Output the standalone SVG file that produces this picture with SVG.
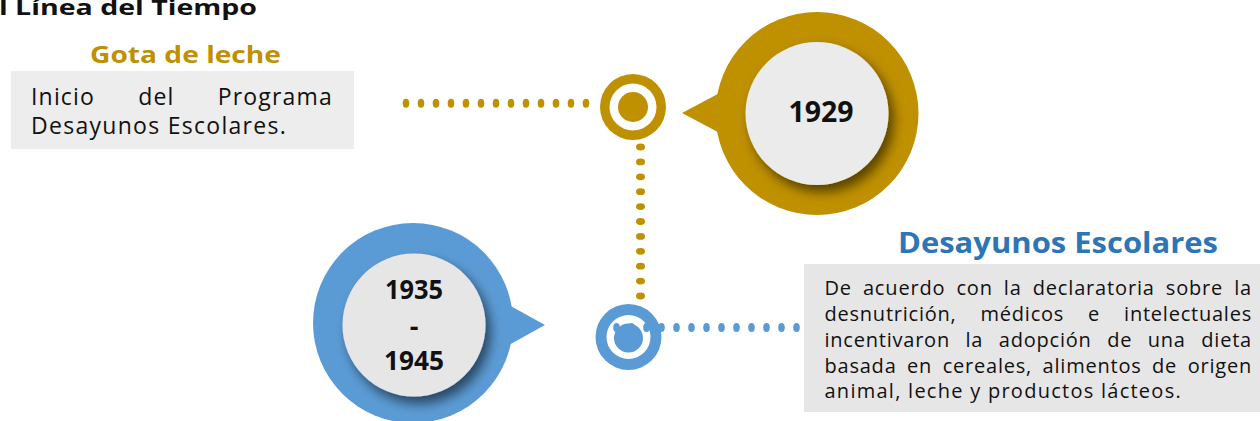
<svg xmlns="http://www.w3.org/2000/svg" width="1260" height="421" viewBox="0 0 1260 421">
<defs>
<style>
.t{font-family:"Open Sans","Liberation Sans",sans-serif;fill:#111111}
.b{font-weight:bold}
.gold{fill:#BF9000}
.blue{fill:#5B9BD5}
.inner{fill:#EBEBEB}
.gd{fill:#BF9000}
.bd{fill:#5B9BD5}
.p1{font-size:23px;letter-spacing:1.2px}
.p2{font-size:20px;letter-spacing:0.8px}
</style>
<filter id="sh" x="-30%" y="-30%" width="170%" height="170%">
<feDropShadow dx="5" dy="7" stdDeviation="6" flood-color="#000" flood-opacity="0.55"/>
</filter>
</defs>
<rect width="1260" height="421" fill="#FFFFFF"/>
<text class="t b" x="-1" y="15" font-size="22" textLength="258" lengthAdjust="spacingAndGlyphs">l Línea del Tiempo</text>

<g id="node-gota">
<text class="t b" x="90" y="63" font-size="23" style="fill:#BF9000" textLength="191" lengthAdjust="spacingAndGlyphs">Gota de leche</text>
<rect x="11" y="71" width="343" height="78" fill="#EDEDED"/>
<text class="t p1" x="31" y="105" word-spacing="36" textLength="302" lengthAdjust="spacing">Inicio del Programa</text>
<text class="t p1" x="31" y="134" textLength="256" lengthAdjust="spacing">Desayunos Escolares.</text>
</g>

<g id="node-1929">
<polygon class="gold" points="682,113 730,87.5 730,138.5"/>
<circle class="gold" cx="817" cy="113.5" r="101.5"/>
<circle class="inner" cx="817" cy="113.5" r="71.5" filter="url(#sh)"/>
<text class="t b" x="821" y="122" font-size="28" text-anchor="middle" textLength="65" lengthAdjust="spacingAndGlyphs">1929</text>
</g>

<g id="ring-gold">
<circle class="gold" cx="633" cy="107" r="33"/>
<circle cx="633" cy="107" r="23.5" fill="#FFFFFF"/>
<circle class="gold" cx="633" cy="107" r="15"/>
</g>

<g id="node-1935">
<polygon class="blue" points="545,325 500,300 500,350"/>
<circle class="blue" cx="413" cy="323" r="100"/>
<circle class="inner" cx="414" cy="325" r="71.5" filter="url(#sh)" style="fill:#E6E6E6"/>
<text class="t b" x="414" y="299" font-size="27" text-anchor="middle" textLength="58" lengthAdjust="spacingAndGlyphs">1935</text>
<text class="t b" x="414" y="336" font-size="27" text-anchor="middle">-</text>
<text class="t b" x="414" y="370" font-size="27" text-anchor="middle" textLength="60" lengthAdjust="spacingAndGlyphs">1945</text>
</g>

<g id="ring-blue">
<circle class="blue" cx="628.5" cy="337" r="33"/>
<circle cx="628.5" cy="337" r="22" fill="#FFFFFF"/>
<circle class="blue" cx="628.5" cy="338" r="14.5"/>
</g>

<g id="node-desayunos">
<text class="t b" x="898" y="253" font-size="28" style="fill:#2E75B6" textLength="320" lengthAdjust="spacingAndGlyphs">Desayunos Escolares</text>
<rect x="804" y="264" width="456" height="148" fill="#E7E6E6"/>
<text class="t p2" x="824.5" y="295" word-spacing="5" textLength="427.5" lengthAdjust="spacing">De acuerdo con la declaratoria sobre la</text>
<text class="t p2" x="824.5" y="321" word-spacing="18" textLength="427.5" lengthAdjust="spacing">desnutrición, médicos e intelectuales</text>
<text class="t p2" x="824.5" y="347" word-spacing="9.6" textLength="427.5" lengthAdjust="spacing">incentivaron la adopción de una dieta</text>
<text class="t p2" x="824.5" y="372.5" word-spacing="4.6" textLength="427.5" lengthAdjust="spacing">basada en cereales, alimentos de origen</text>
<text class="t p2" x="824.5" y="398" textLength="357" lengthAdjust="spacing">animal, leche y productos lácteos.</text>
</g>

<g id="connectors">
<g class="gd">
<ellipse cx="406" cy="103.3" rx="3.3" ry="4.5"/>
<ellipse cx="421" cy="103.3" rx="3.3" ry="4.5"/>
<ellipse cx="436" cy="103.3" rx="3.3" ry="4.5"/>
<ellipse cx="451" cy="103.3" rx="3.3" ry="4.5"/>
<ellipse cx="466" cy="103.3" rx="3.3" ry="4.5"/>
<ellipse cx="481" cy="103.3" rx="3.3" ry="4.5"/>
<ellipse cx="496" cy="103.3" rx="3.3" ry="4.5"/>
<ellipse cx="511" cy="103.3" rx="3.3" ry="4.5"/>
<ellipse cx="526" cy="103.3" rx="3.3" ry="4.5"/>
<ellipse cx="541" cy="103.3" rx="3.3" ry="4.5"/>
<ellipse cx="556" cy="103.3" rx="3.3" ry="4.5"/>
<ellipse cx="571" cy="103.3" rx="3.3" ry="4.5"/>
<ellipse cx="586" cy="103.3" rx="3.3" ry="4.5"/>
<ellipse cx="640.5" cy="147" rx="4.5" ry="3.4"/>
<ellipse cx="640.5" cy="161.9" rx="4.5" ry="3.4"/>
<ellipse cx="640.5" cy="176.8" rx="4.5" ry="3.4"/>
<ellipse cx="640.5" cy="191.7" rx="4.5" ry="3.4"/>
<ellipse cx="640.5" cy="206.6" rx="4.5" ry="3.4"/>
<ellipse cx="640.5" cy="221.5" rx="4.5" ry="3.4"/>
<ellipse cx="640.5" cy="236.4" rx="4.5" ry="3.4"/>
<ellipse cx="640.5" cy="251.3" rx="4.5" ry="3.4"/>
<ellipse cx="640.5" cy="266.2" rx="4.5" ry="3.4"/>
<ellipse cx="640.5" cy="281.1" rx="4.5" ry="3.4"/>
<ellipse cx="640.5" cy="296" rx="4.5" ry="3.4"/>
</g>
<g class="bd">
<ellipse cx="616.5" cy="327.5" rx="3.3" ry="4.5"/>
<ellipse cx="631.5" cy="327.5" rx="3.3" ry="4.5"/>
<ellipse cx="646.5" cy="327.5" rx="3.3" ry="4.5"/>
<ellipse cx="661.5" cy="327.5" rx="3.3" ry="4.5"/>
<ellipse cx="676.5" cy="327.5" rx="3.3" ry="4.5"/>
<ellipse cx="691.5" cy="327.5" rx="3.3" ry="4.5"/>
<ellipse cx="706.5" cy="327.5" rx="3.3" ry="4.5"/>
<ellipse cx="721.5" cy="327.5" rx="3.3" ry="4.5"/>
<ellipse cx="736.5" cy="327.5" rx="3.3" ry="4.5"/>
<ellipse cx="751.5" cy="327.5" rx="3.3" ry="4.5"/>
<ellipse cx="766.5" cy="327.5" rx="3.3" ry="4.5"/>
<ellipse cx="781.5" cy="327.5" rx="3.3" ry="4.5"/>
<ellipse cx="796.5" cy="327.5" rx="3.3" ry="4.5"/>
</g>
</g>
</svg>
